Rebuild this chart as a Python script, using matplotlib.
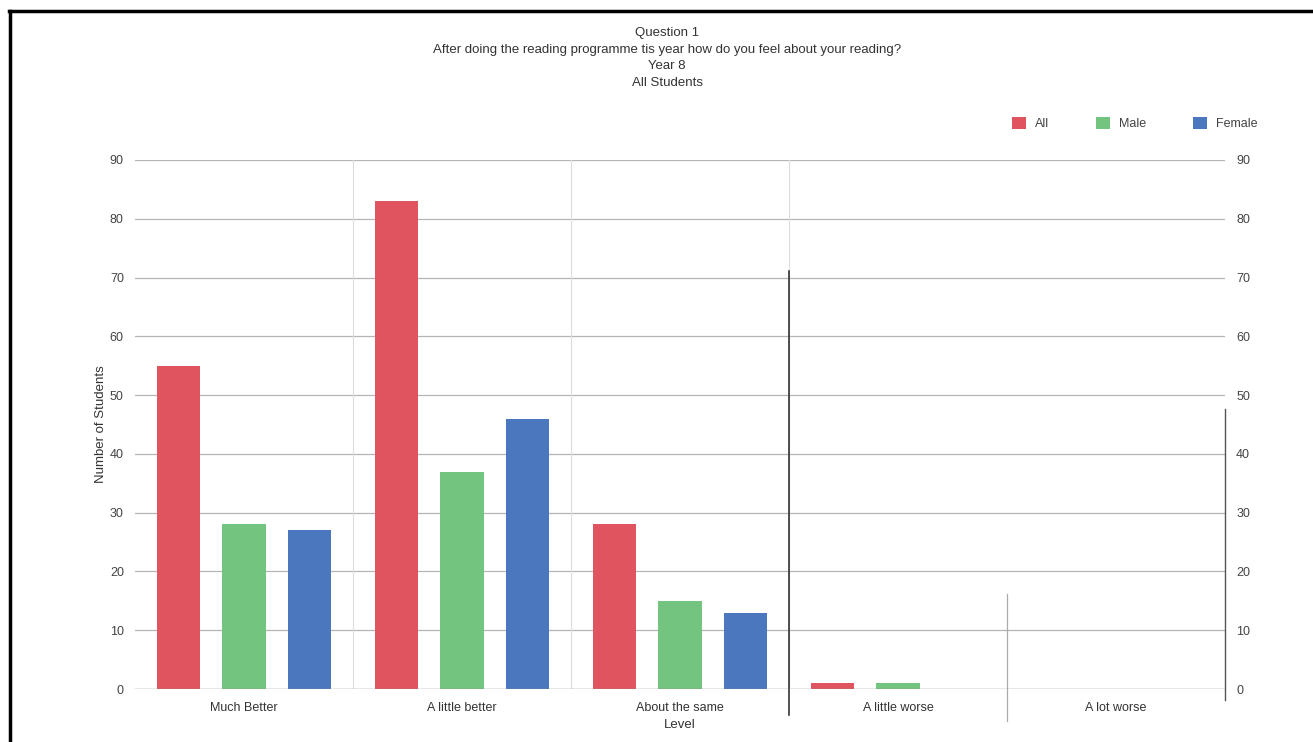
import numpy as np
import matplotlib
matplotlib.use("Agg")
import matplotlib.pyplot as plt
from matplotlib.lines import Line2D

plt.rcParams["font.family"] = ["Liberation Sans", "DejaVu Sans"]

levels = ["Much Better", "A little better", "About the same", "A little worse", "A lot worse"]
series = ["All", "Male", "Female"]
all_students = [55, 83, 28, 1, 0]
male = [28, 37, 15, 1, 0]
female = [27, 46, 13, 0, 0]
colors = ["#e0545f", "#72c47e", "#4a77bd"]

fig = plt.figure(figsize=(13.13, 7.42), dpi=100)
ax = fig.add_axes([0.1028, 0.0714, 0.8302, 0.713])

x = np.arange(len(levels))
offsets = [-0.3, 0.0, 0.3]
for vals, off, col, name in zip([all_students, male, female], offsets, colors, series):
    ax.bar(x + off, vals, width=0.2, color=col, label=name, zorder=3)

ax.set_xlim(-0.5, len(levels) - 0.5)
ax.set_ylim(0, 90)
ax.set_yticks(range(0, 91, 10))
ax.set_xticks(x)
ax.set_xticklabels(levels, fontsize=9.5, color="#333333")
ax.tick_params(axis="both", length=0, labelsize=9, colors="#444444")
ax.tick_params(axis="x", pad=9, colors="#333333")
ax.tick_params(axis="y", pad=8)
ax.tick_params(axis="y", which="both", labelright=True)

# horizontal grid
for v in range(10, 91, 10):
    ax.axhline(v, color="#b5b5b5", lw=0.9, zorder=1)
ax.axhline(0, color="#888888", lw=1.0, zorder=4)

# category separators
for b in [0.5, 1.5, 2.5]:
    ax.axvline(b, color="#dddddd", lw=0.8, zorder=1)
ax.axvline(2.5, ymin=-0.05, ymax=0.79, color="#222222", lw=1.1, zorder=2, clip_on=False)
ax.axvline(3.5, ymin=-0.06, ymax=0.18, color="#aaaaaa", lw=0.9, zorder=2, clip_on=False)
ax.axvline(4.5, ymin=-0.02, ymax=0.53, color="#555555", lw=1.0, zorder=2, clip_on=False)

for s in ax.spines.values():
    s.set_visible(False)

ax.set_ylabel("Number of Students", fontsize=9.5, color="#333333", labelpad=2)
ax.set_xlabel("Level", fontsize=9.5, color="#333333", labelpad=4)

fig.text(0.508, 0.963, "Question 1\nAfter doing the reading programme tis year how do you feel about your reading?\nYear 8\nAll Students",
         ha="center", va="top", fontsize=9.5, color="#333333", linespacing=1.5)

ax.legend(loc="lower right", bbox_to_anchor=(1.04, 1.035), ncol=3, frameon=False,
          fontsize=9, handlelength=1.1, handleheight=1.1, handletextpad=0.7,
          columnspacing=3.8, labelcolor="#444444")

# page border from the printout
fig.add_artist(Line2D([9 / 1313, 1], [1 - 10.5 / 742, 1 - 10.5 / 742], color="black", lw=2.5, transform=fig.transFigure))
fig.add_artist(Line2D([10 / 1313, 10 / 1313], [0, 1 - 10.5 / 742], color="black", lw=2.5, transform=fig.transFigure))

fig.savefig("out.png", dpi=100)
